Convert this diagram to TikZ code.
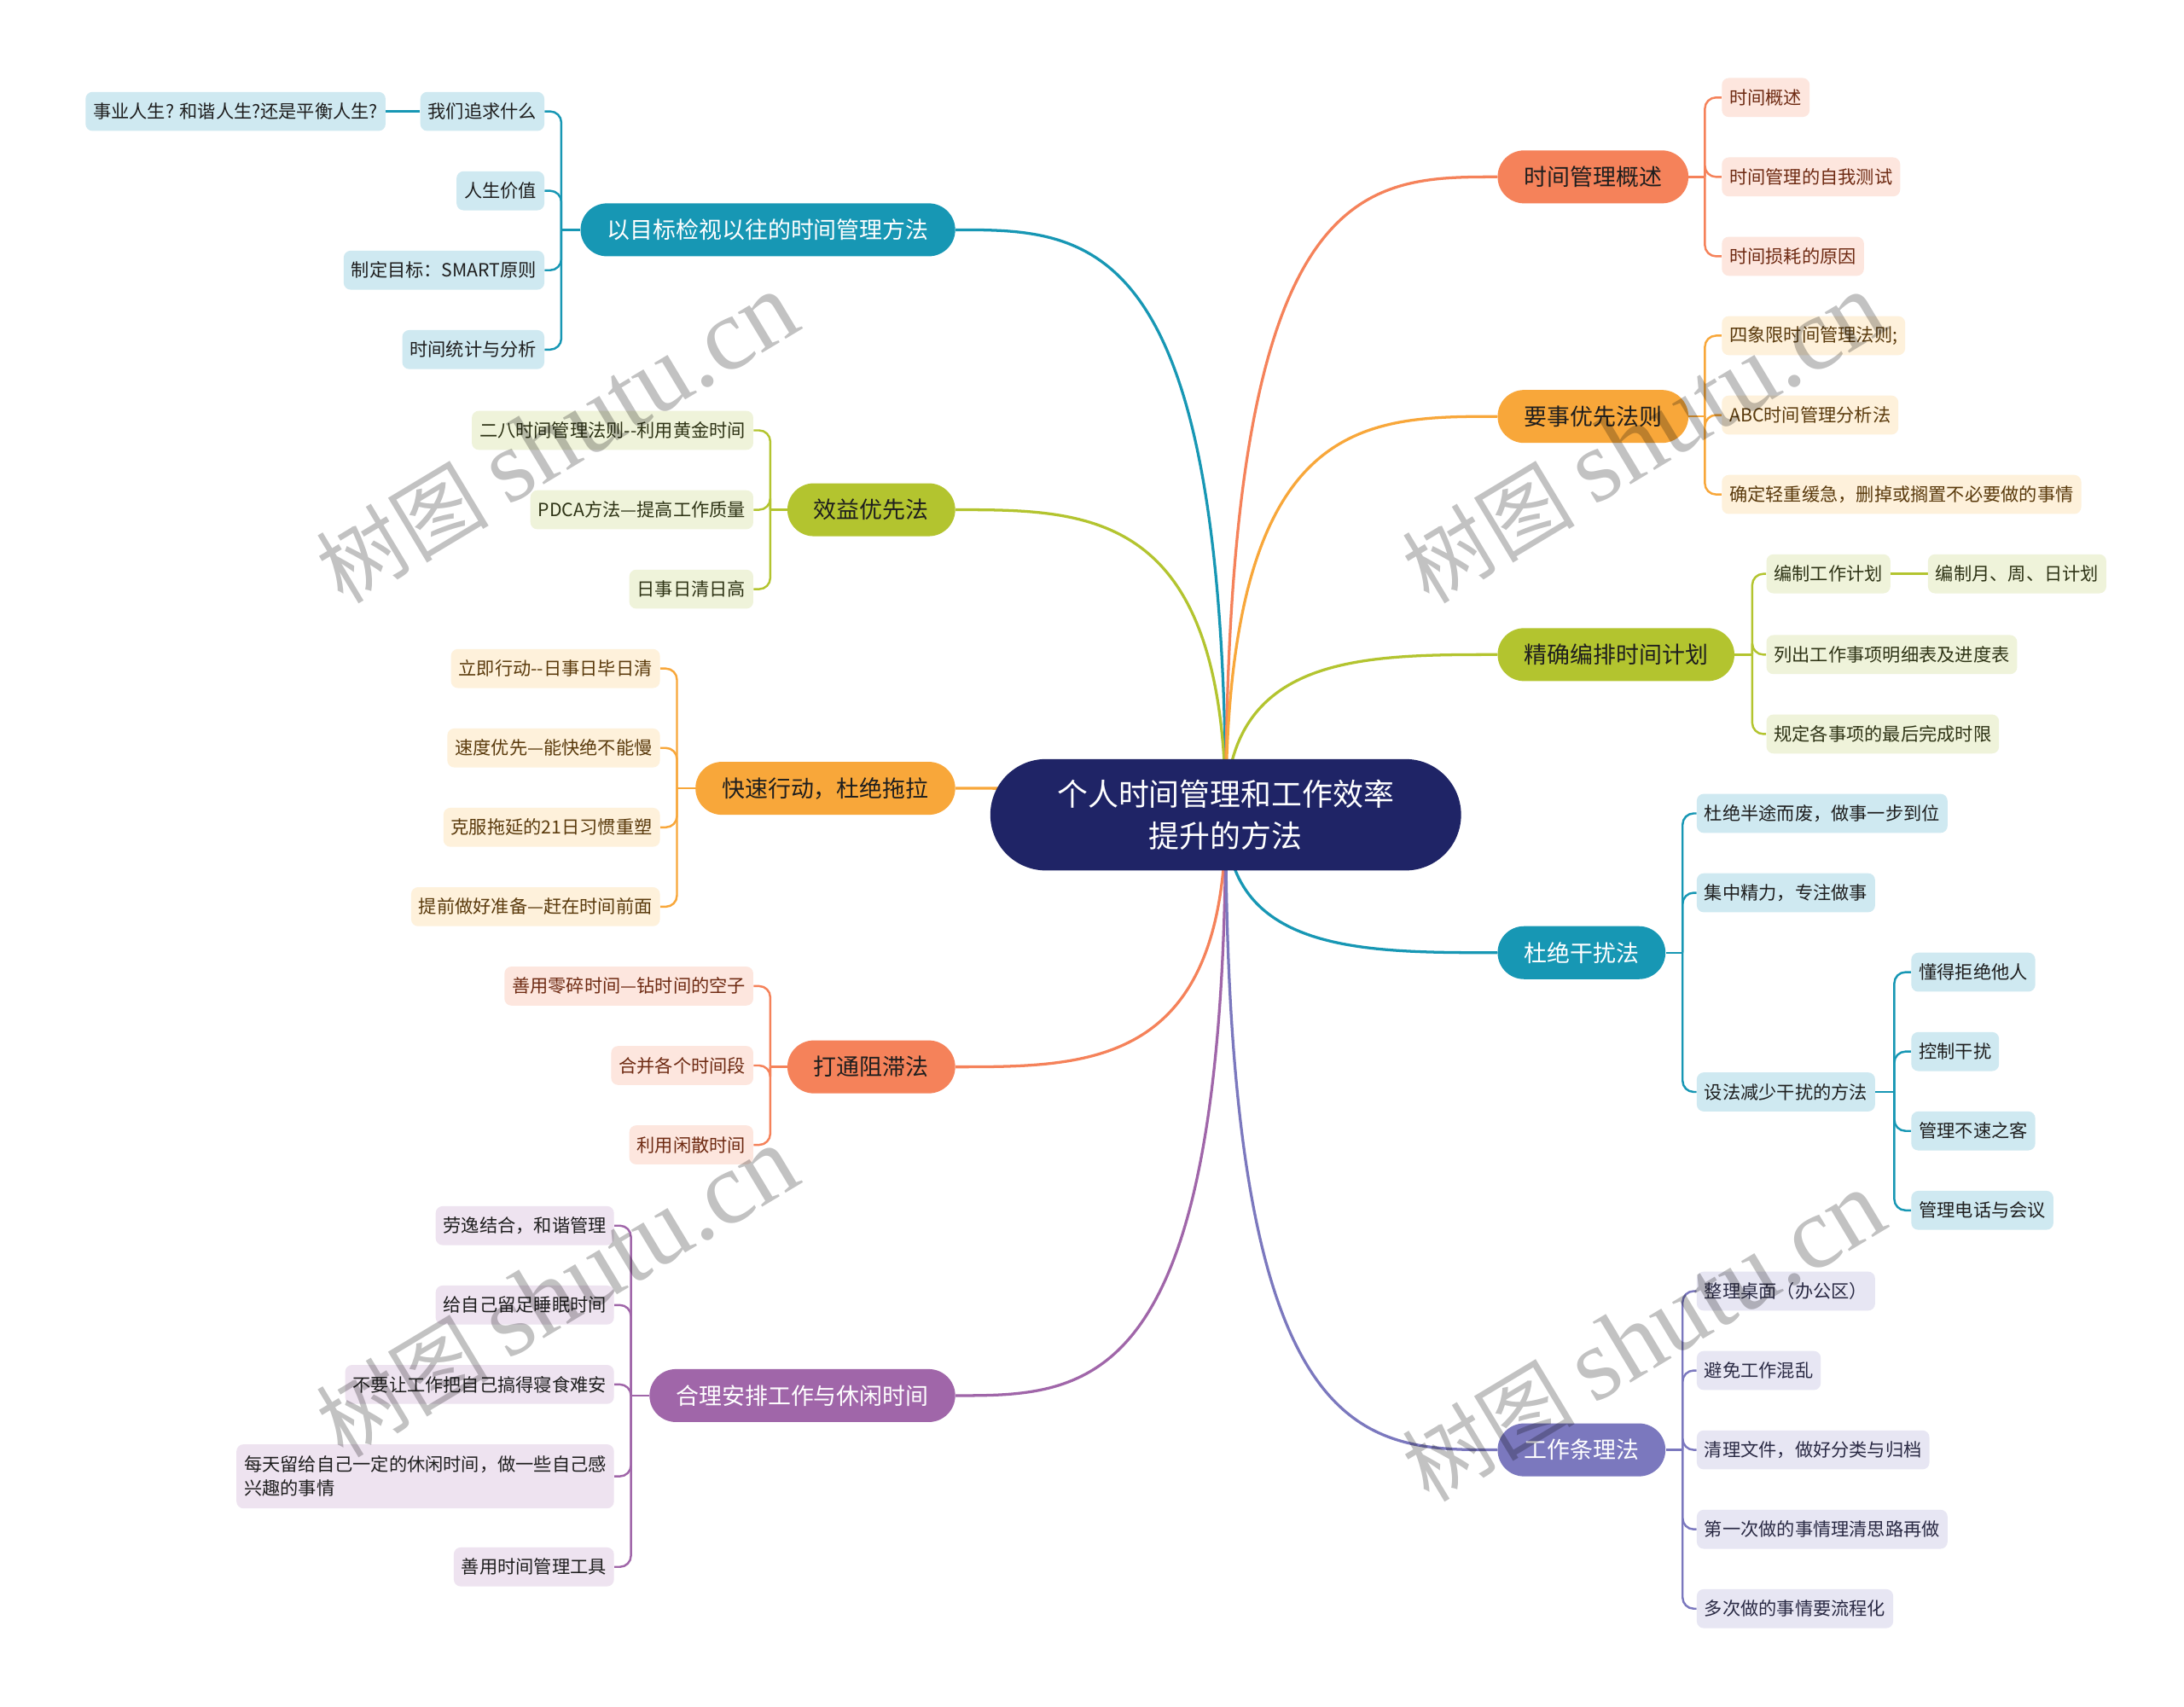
\documentclass[tikz,border=0pt]{standalone}
\usepackage{fontspec}
\newfontfamily\cjk{Noto Sans CJK SC}
\newfontfamily\wmser{Liberation Serif}
\usetikzlibrary{backgrounds}
\definecolor{cTeal}{HTML}{1797B4}
\definecolor{cGreen}{HTML}{B3C42F}
\definecolor{cOrange}{HTML}{F8A73A}
\definecolor{cCoral}{HTML}{F5825A}
\definecolor{cPurple}{HTML}{A066A9}
\definecolor{cSlate}{HTML}{7B78BE}
\definecolor{cNavy}{HTML}{1F2466}
\definecolor{lTeal}{HTML}{CFE9F1}
\definecolor{lGreen}{HTML}{EFF3DA}
\definecolor{lOrange}{HTML}{FEF1DB}
\definecolor{lCoral}{HTML}{FDE6DE}
\definecolor{lPurple}{HTML}{EEE3F0}
\definecolor{lSlate}{HTML}{E7E6F3}
\definecolor{tCoral}{HTML}{6E2A12}
\definecolor{tOrange}{HTML}{5A3A0C}
\definecolor{tGreen}{HTML}{2E3315}
\definecolor{tDark}{HTML}{1E1E1E}
\definecolor{tSlate}{HTML}{2A2A44}
\tikzset{
  sub/.style={rounded corners=5, minimum height=28, inner xsep=5.5, inner ysep=0, font=\cjk\fontsize{13}{17}\selectfont},
  mainb/.style={rounded corners=19, minimum height=38, inner xsep=19, inner ysep=0, font=\cjk\fontsize{16.5}{20}\selectfont},
  conn/.style={line width=1.5, rounded corners=8},
  mconn/.style={line width=2},
  subT/.style={sub, fill=lTeal, text=tDark},
  subG/.style={sub, fill=lGreen, text=tGreen},
  subO/.style={sub, fill=lOrange, text=tOrange},
  subC/.style={sub, fill=lCoral, text=tCoral},
  subP/.style={sub, fill=lPurple, text=tDark},
  subS/.style={sub, fill=lSlate, text=tSlate},
  wm/.style={opacity=0.24, text=black, rotate=31}
}
\begin{document}
\begin{tikzpicture}[x=1pt, y=-1pt]
\useasboundingbox (0,0) rectangle (1568,1225.6);

% root
\node[fill=cNavy, text=white, rounded corners=40, minimum width=338, minimum height=80, align=center, font=\cjk\fontsize{22}{30}\selectfont] (root) at (880,585) {个人时间管理和工作效率\\提升的方法};

% left main branches
\node[mainb, fill=cTeal, text=white, anchor=east] (L1) at (686,165) {以目标检视以往的时间管理方法};
\node[mainb, fill=cGreen, text=tDark, anchor=east] (L2) at (686,366) {效益优先法};
\node[mainb, fill=cOrange, text=tDark, anchor=east] (L3) at (686,566) {快速行动，杜绝拖拉};
\node[mainb, fill=cCoral, text=tDark, anchor=east] (L4) at (686,766) {打通阻滞法};
\node[mainb, fill=cPurple, text=white, anchor=east] (L5) at (686,1002) {合理安排工作与休闲时间};

% right main branches
\node[mainb, fill=cCoral, text=tDark, anchor=west] (R1) at (1075,127) {时间管理概述};
\node[mainb, fill=cOrange, text=tDark, anchor=west] (R2) at (1075,299) {要事优先法则};
\node[mainb, fill=cGreen, text=tDark, anchor=west] (R3) at (1075,470) {精确编排时间计划};
\node[mainb, fill=cTeal, text=white, anchor=west] (R4) at (1075,684) {杜绝干扰法};
\node[mainb, fill=cSlate, text=white, anchor=west] (R5) at (1075,1041) {工作条理法};

% L1 children
\node[subT, anchor=east] (a1) at (391,80) {我们追求什么};
\node[subT, anchor=east] (a0) at (277,80) {事业人生? 和谐人生?还是平衡人生?};
\node[subT, anchor=east] (a2) at (391,137) {人生价值};
\node[subT, anchor=east] (a3) at (391,194) {制定目标：SMART原则};
\node[subT, anchor=east] (a4) at (391,251) {时间统计与分析};
% L2 children
\node[subG, anchor=east] (b1) at (541,309) {二八时间管理法则--利用黄金时间};
\node[subG, anchor=east] (b2) at (541,366) {PDCA方法—提高工作质量};
\node[subG, anchor=east] (b3) at (541,423) {日事日清日高};
% L3 children
\node[subO, anchor=east] (c1) at (474,480) {立即行动--日事日毕日清};
\node[subO, anchor=east] (c2) at (474,537) {速度优先—能快绝不能慢};
\node[subO, anchor=east] (c3) at (474,594) {克服拖延的21日习惯重塑};
\node[subO, anchor=east] (c4) at (474,651) {提前做好准备—赶在时间前面};
% L4 children
\node[subC, anchor=east] (d1) at (541,708) {善用零碎时间—钻时间的空子};
\node[subC, anchor=east] (d2) at (541,765) {合并各个时间段};
\node[subC, anchor=east] (d3) at (541,822) {利用闲散时间};
% L5 children
\node[subP, anchor=east] (e1) at (441,880) {劳逸结合，和谐管理};
\node[subP, anchor=east] (e2) at (441,937) {给自己留足睡眠时间};
\node[subP, anchor=east] (e3) at (441,994) {不要让工作把自己搞得寝食难安};
\node[subP, anchor=east, minimum height=46, align=left] (e4) at (441,1060) {每天留给自己一定的休闲时间，做一些自己感\\兴趣的事情};
\node[subP, anchor=east] (e5) at (441,1125) {善用时间管理工具};

% R1 children
\node[subC, anchor=west] (f1) at (1236,70) {时间概述};
\node[subC, anchor=west] (f2) at (1236,127) {时间管理的自我测试};
\node[subC, anchor=west] (f3) at (1236,184) {时间损耗的原因};
% R2 children
\node[subO, anchor=west] (g1) at (1236,241) {四象限时间管理法则;};
\node[subO, anchor=west] (g2) at (1236,298) {ABC时间管理分析法};
\node[subO, anchor=west] (g3) at (1236,355) {确定轻重缓急，删掉或搁置不必要做的事情};
% R3 children
\node[subG, anchor=west] (h1) at (1268,412) {编制工作计划};
\node[subG, anchor=west] (h1a) at (1384,412) {编制月、周、日计划};
\node[subG, anchor=west] (h2) at (1268,470) {列出工作事项明细表及进度表};
\node[subG, anchor=west] (h3) at (1268,527) {规定各事项的最后完成时限};
% R4 children
\node[subT, anchor=west] (i1) at (1218,584) {杜绝半途而废，做事一步到位};
\node[subT, anchor=west] (i2) at (1218,641) {集中精力，专注做事};
\node[subT, anchor=west] (i3) at (1218,784) {设法减少干扰的方法};
\node[subT, anchor=west] (j1) at (1372,698) {懂得拒绝他人};
\node[subT, anchor=west] (j2) at (1372,755) {控制干扰};
\node[subT, anchor=west] (j3) at (1372,812) {管理不速之客};
\node[subT, anchor=west] (j4) at (1372,869) {管理电话与会议};
% R5 children
\node[subS, anchor=west] (k1) at (1218,927) {整理桌面（办公区）};
\node[subS, anchor=west] (k2) at (1218,984) {避免工作混乱};
\node[subS, anchor=west] (k3) at (1218,1041) {清理文件，做好分类与归档};
\node[subS, anchor=west] (k4) at (1218,1098) {第一次做的事情理清思路再做};
\node[subS, anchor=west] (k5) at (1218,1155) {多次做的事情要流程化};

% spine points
\coordinate (sL1) at (403,165);
\coordinate (sL2) at (553,366);
\coordinate (sL3) at (486,566);
\coordinate (sL4) at (553,766);
\coordinate (sL5) at (453,1002);
\coordinate (sR1) at (1224,127);
\coordinate (sR2) at (1224,299);
\coordinate (sR3) at (1258,470);
\coordinate (sR4) at (1208,684);
\coordinate (sR5) at (1208,1041);
\coordinate (sI3) at (1360,784);

\begin{scope}[on background layer]
\fill[white] (0,0) rectangle (1568,1225.6);
% main connectors
\draw[mconn, cTeal] (root.center) .. controls (880,165) and (783,165) .. (L1.east);
\draw[mconn, cGreen] (root.center) .. controls (880,366) and (783,366) .. (L2.east);
\draw[mconn, cOrange] (root.center) .. controls (880,566) and (783,566) .. (L3.east);
\draw[mconn, cCoral] (root.center) .. controls (880,766) and (783,766) .. (L4.east);
\draw[mconn, cPurple] (root.center) .. controls (880,1002) and (783,1002) .. (L5.east);
\draw[mconn, cCoral] (root.center) .. controls (880,127) and (977,127) .. (R1.west);
\draw[mconn, cOrange] (root.center) .. controls (880,299) and (977,299) .. (R2.west);
\draw[mconn, cGreen] (root.center) .. controls (880,470) and (977,470) .. (R3.west);
\draw[mconn, cTeal] (root.center) .. controls (880,684) and (977,684) .. (R4.west);
\draw[mconn, cSlate] (root.center) .. controls (880,1041) and (977,1041) .. (R5.west);

% sub connectors
\draw[conn, cTeal] (L1.west) -- (sL1);
\foreach \c in {a1,a2,a3,a4} \draw[conn, cTeal] (sL1) |- (\c.east);
\draw[mconn, cTeal] (a1.west) -- (a0.east);
\draw[conn, cGreen] (L2.west) -- (sL2);
\foreach \c in {b1,b2,b3} \draw[conn, cGreen] (sL2) |- (\c.east);
\draw[conn, cOrange] (L3.west) -- (sL3);
\foreach \c in {c1,c2,c3,c4} \draw[conn, cOrange] (sL3) |- (\c.east);
\draw[conn, cCoral] (L4.west) -- (sL4);
\foreach \c in {d1,d2,d3} \draw[conn, cCoral] (sL4) |- (\c.east);
\draw[conn, cPurple] (L5.west) -- (sL5);
\foreach \c in {e1,e2,e3,e4,e5} \draw[conn, cPurple] (sL5) |- (\c.east);

\draw[conn, cCoral] (R1.east) -- (sR1);
\foreach \c in {f1,f2,f3} \draw[conn, cCoral] (sR1) |- (\c.west);
\draw[conn, cOrange] (R2.east) -- (sR2);
\foreach \c in {g1,g2,g3} \draw[conn, cOrange] (sR2) |- (\c.west);
\draw[conn, cGreen] (R3.east) -- (sR3);
\foreach \c in {h1,h2,h3} \draw[conn, cGreen] (sR3) |- (\c.west);
\draw[mconn, cGreen] (h1.east) -- (h1a.west);
\draw[conn, cTeal] (R4.east) -- (sR4);
\foreach \c in {i1,i2,i3} \draw[conn, cTeal] (sR4) |- (\c.west);
\draw[conn, cTeal] (i3.east) -- (sI3);
\foreach \c in {j1,j2,j3,j4} \draw[conn, cTeal] (sI3) |- (\c.west);
\draw[conn, cSlate] (R5.east) -- (sR5);
\foreach \c in {k1,k2,k3,k4,k5} \draw[conn, cSlate] (sR5) |- (\c.west);
\end{scope}

% watermarks
\node[wm] (w1) at (400,315) {\cjk\fontsize{62}{62}\selectfont 树图 \wmser\fontsize{74}{74}\selectfont shutu.cn};
\node[wm] (w2) at (1180,315) {\cjk\fontsize{62}{62}\selectfont 树图 \wmser\fontsize{74}{74}\selectfont shutu.cn};
\node[wm] (w3) at (400,928) {\cjk\fontsize{62}{62}\selectfont 树图 \wmser\fontsize{74}{74}\selectfont shutu.cn};
\node[wm] (w4) at (1180,960) {\cjk\fontsize{62}{62}\selectfont 树图 \wmser\fontsize{74}{74}\selectfont shutu.cn};
\end{tikzpicture}
\end{document}
